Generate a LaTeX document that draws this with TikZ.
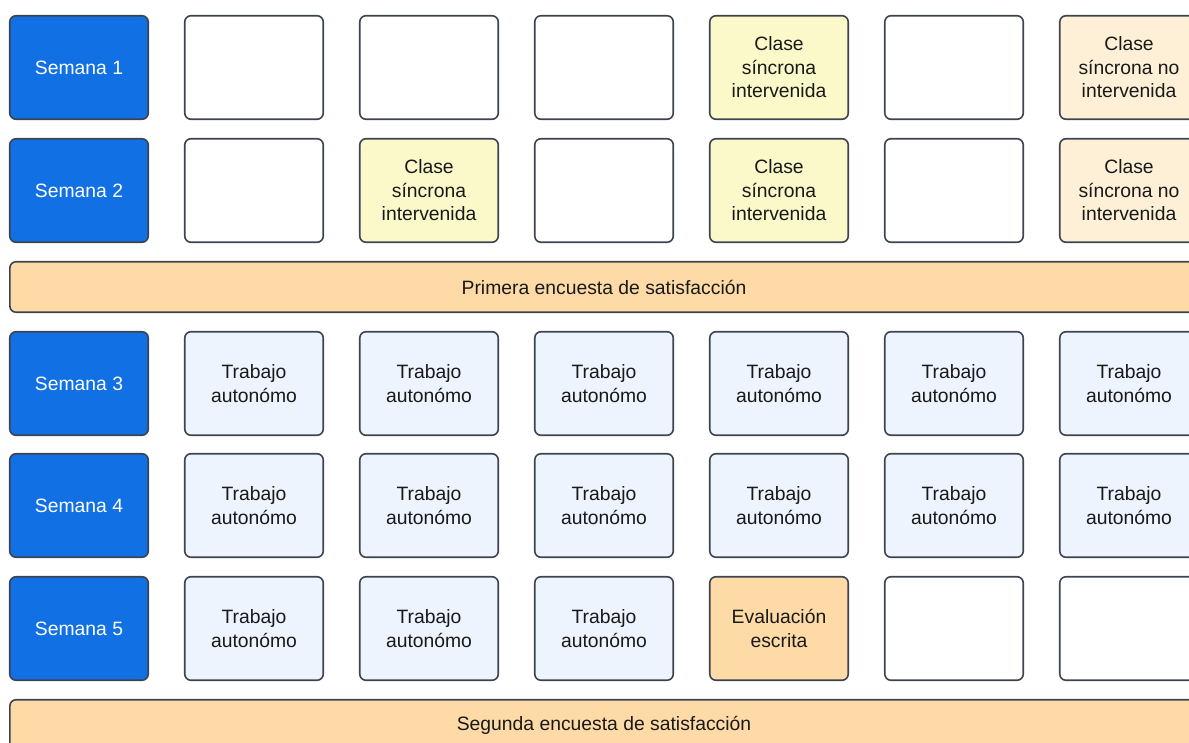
\documentclass[tikz,border=0pt]{standalone}
\usepackage{fontspec}
\setmainfont{Liberation Sans}
\usetikzlibrary{positioning}
\definecolor{semanaazul}{HTML}{1170E3}
\definecolor{bordegris}{HTML}{3D4450}
\definecolor{amarilloclaro}{HTML}{FBF9C9}
\definecolor{duraznoclaro}{HTML}{FEF0D6}
\definecolor{naranjaclaro}{HTML}{FEDBA6}
\definecolor{azulclaro}{HTML}{EDF4FD}

\begin{document}
\begin{tikzpicture}[x=0.02cm,y=-0.02cm,
    celda/.style={rectangle,draw=bordegris,line width=0.9pt,rounded corners=3.5pt,
                  minimum width=2.77cm,minimum height=2.07cm,align=center,inner sep=2pt,
                  font=\fontsize{11}{13.4}\selectfont,text=black!90},
    semana/.style={celda,fill=semanaazul,text=white},
    vacio/.style={celda,fill=white},
    clase/.style={celda,fill=amarilloclaro},
    claseno/.style={celda,fill=duraznoclaro},
    trabajo/.style={celda,fill=azulclaro},
    evaluacion/.style={celda,fill=naranjaclaro},
    encuesta/.style={celda,fill=naranjaclaro,minimum width=23.77cm,minimum height=1.01cm}
  ]
  \path[use as bounding box,clip] (0,0) rectangle (1189,743);

  % Semanas
  \node[semana] (S1) at (79,67.5) {Semana 1};
  \node[semana] (S2) at (79,190.5) {Semana 2};
  \node[semana] (S3) at (79,383.5) {Semana 3};
  \node[semana] (S4) at (79,505.5) {Semana 4};
  \node[semana] (S5) at (79,628.5) {Semana 5};

  % Semana 1
  \node[vacio] (S1a) at (254,67.5) {};
  \node[vacio] (S1b) at (429,67.5) {};
  \node[vacio] (S1c) at (604,67.5) {};
  \node[clase] (S1d) at (779,67.5) {Clase\\síncrona\\intervenida};
  \node[vacio] (S1e) at (954,67.5) {};
  \node[claseno] (S1f) at (1129,67.5) {Clase\\síncrona no\\intervenida};

  % Semana 2
  \node[vacio] (S2a) at (254,190.5) {};
  \node[clase] (S2b) at (429,190.5) {Clase\\síncrona\\intervenida};
  \node[vacio] (S2c) at (604,190.5) {};
  \node[clase] (S2d) at (779,190.5) {Clase\\síncrona\\intervenida};
  \node[vacio] (S2e) at (954,190.5) {};
  \node[claseno] (S2f) at (1129,190.5) {Clase\\síncrona no\\intervenida};

  % Encuestas
  \node[encuesta] (E1) at (604,287) {Primera encuesta de satisfacción};
  \node[encuesta] (E2) at (604,725) {Segunda encuesta de satisfacción};

  % Semanas 3 y 4
  \foreach \c in {1,...,6} {
    \node[trabajo] (S3t\c) at (79+175*\c,383.5) {Trabajo\\autonómo};
    \node[trabajo] (S4t\c) at (79+175*\c,505.5) {Trabajo\\autonómo};
  }

  % Semana 5
  \foreach \c in {1,2,3}
    \node[trabajo] (S5t\c) at (79+175*\c,628.5) {Trabajo\\autonómo};
  \node[evaluacion] (S5d) at (779,628.5) {Evaluación\\escrita};
  \node[vacio] (S5e) at (954,628.5) {};
  \node[vacio] (S5f) at (1129,628.5) {};

\end{tikzpicture}
\end{document}
